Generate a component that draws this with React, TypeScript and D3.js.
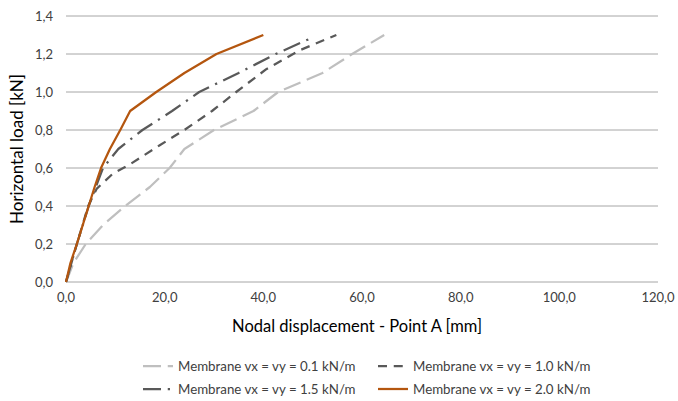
import { useMemo } from "react";
import * as d3 from "d3";

const WIDTH = 678;
const HEIGHT = 401;
const MARGIN = { top: 16, right: 20, bottom: 119, left: 66 };
const FONT = "Lato, 'Open Sans', sans-serif";

// displacement [mm] / load [kN] pairs
const disp01 = [0, 1.5, 4, 7.5, 12, 17, 21, 24, 30, 38, 43, 52, 58, 64.5];
const load01 = [0, 0.1, 0.2, 0.3, 0.4, 0.5, 0.6, 0.7, 0.8, 0.9, 1.0, 1.1, 1.2, 1.3];

const disp10 = [0, 2.2, 4.5, 6.2, 9.5, 13, 19, 24, 29.6, 34.5, 40.6, 47.4, 54.8];
const load10 = [0, 0.2, 0.4, 0.49, 0.57, 0.62, 0.72, 0.8, 0.9, 1.0, 1.12, 1.22, 1.3];

const disp15 = [0, 2.2, 4.6, 7.5, 10.6, 15.5, 21.5, 27, 35, 42.5, 49.4];
const load15 = [0, 0.2, 0.4, 0.6, 0.7, 0.8, 0.9, 1.0, 1.1, 1.2, 1.28];

const disp20 = [0, 0.9, 2.2, 3.4, 4.6, 5.8, 7.1, 8.9, 11, 13, 18.3, 24, 30.5, 40];
const load20 = [0, 0.1, 0.2, 0.3, 0.4, 0.5, 0.6, 0.7, 0.8, 0.9, 1.0, 1.1, 1.2, 1.3];

const seriesNames = [
  "Membrane vx = vy = 0.1 kN/m",
  "Membrane vx = vy = 1.0 kN/m",
  "Membrane vx = vy = 1.5 kN/m",
  "Membrane vx = vy = 2.0 kN/m",
];
const xTicks = [0, 20, 40, 60, 80, 100, 120];
const yTicks = [0, 0.2, 0.4, 0.6, 0.8, 1.0, 1.2, 1.4];

const STYLES = [
  { color: "#bfbfbf", dash: "18 6.75" },
  { color: "#595959", dash: "9 6.75" },
  { color: "#595959", dash: "18 6.75 2.25 6.75" },
  { color: "#b4560f", dash: "" },
];

const fmt = (v: number) => v.toFixed(1).replace(".", ",");

export default function App() {
  const boundsWidth = WIDTH - MARGIN.left - MARGIN.right;
  const boundsHeight = HEIGHT - MARGIN.top - MARGIN.bottom;

  const xScale = useMemo(
    () => d3.scaleLinear().domain([0, 120]).range([0, boundsWidth]),
    [boundsWidth]
  );
  const yScale = useMemo(
    () => d3.scaleLinear().domain([0, 1.4]).range([boundsHeight, 0]),
    [boundsHeight]
  );

  const series = [
    d3.zip(disp01, load01),
    d3.zip(disp10, load10),
    d3.zip(disp15, load15),
    d3.zip(disp20, load20),
  ];

  const lineGen = d3
    .line<number[]>()
    .x((d) => xScale(d[0]))
    .y((d) => yScale(d[1]));

  // legend: two columns, two rows
  const legendPos = [
    { x: 143, y: 366 },
    { x: 378, y: 366 },
    { x: 143, y: 389 },
    { x: 378, y: 389 },
  ];

  return (
    <svg width={WIDTH} height={HEIGHT} style={{ position: "absolute", left: 0, top: 0 }}>
      <rect width={WIDTH} height={HEIGHT} fill="#ffffff" />
      <g transform={`translate(${MARGIN.left},${MARGIN.top})`}>
        {yTicks.map((t) => (
          <line
            key={t}
            x1={0}
            x2={boundsWidth}
            y1={yScale(t)}
            y2={yScale(t)}
            stroke="#a6a6a6"
            strokeWidth={1}
          />
        ))}
        {yTicks.map((t) => (
          <text
            key={"yl" + t}
            x={-13}
            y={yScale(t)}
            dy="0.35em"
            textAnchor="end"
            fontFamily={FONT}
            fontSize={13}
            fill="#404040"
          >
            {fmt(t)}
          </text>
        ))}
        {xTicks.map((t) => (
          <text
            key={"xl" + t}
            x={xScale(t)}
            y={boundsHeight + 15}
            dy="0.35em"
            textAnchor="middle"
            fontFamily={FONT}
            fontSize={13}
            fill="#404040"
          >
            {fmt(t)}
          </text>
        ))}
        {series.map((s, i) => (
          <path
            key={i}
            d={lineGen(s) ?? ""}
            fill="none"
            stroke={STYLES[i].color}
            strokeWidth={2.25}
            strokeDasharray={STYLES[i].dash}
            strokeLinejoin="round"
          />
        ))}
      </g>
      <text
        transform={`translate(17,${MARGIN.top + boundsHeight / 2}) rotate(-90)`}
        textAnchor="middle"
        dy="0.35em"
        fontFamily={FONT}
        fontSize={17}
        fill="#000"
      >
        Horizontal load [kN]
      </text>
      <text
        x={357}
        y={326}
        dy="0.35em"
        textAnchor="middle"
        fontFamily={FONT}
        fontSize={16.5}
        fill="#000"
      >
        Nodal displacement  - Point A [mm]
      </text>
      {seriesNames.map((name, i) => (
        <g key={name} transform={`translate(${legendPos[i].x},${legendPos[i].y})`}>
          <line
            x1={0}
            x2={30}
            y1={0}
            y2={0}
            stroke={STYLES[i].color}
            strokeWidth={2.25}
            strokeDasharray={STYLES[i].dash}
          />
          <text
            x={35}
            y={0}
            dy="0.35em"
            fontFamily={FONT}
            fontSize={13.3}
            fill="#404040"
          >
            {name}
          </text>
        </g>
      ))}
    </svg>
  );
}
